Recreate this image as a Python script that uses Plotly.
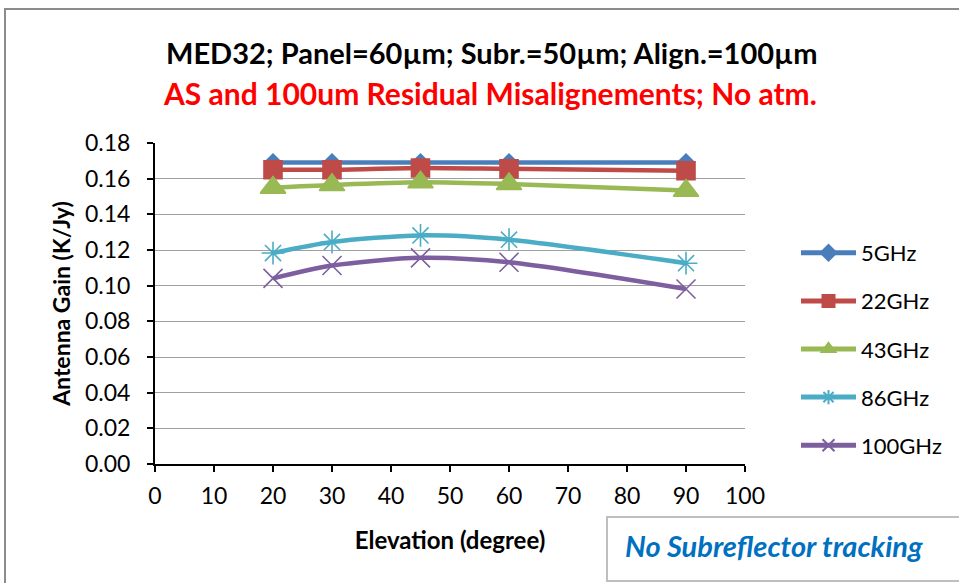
import plotly.graph_objects as go

elevation = [20, 30, 45, 60, 90]
series_names = ["5GHz", "22GHz", "43GHz", "86GHz", "100GHz"]
g5 = [0.169, 0.169, 0.169, 0.169, 0.169]
g22 = [0.165, 0.165, 0.166, 0.1655, 0.1644]
g43 = [0.155, 0.1565, 0.158, 0.157, 0.1533]
g86 = [0.1183, 0.1245, 0.1282, 0.1258, 0.1126]
g100 = [0.1041, 0.1113, 0.1156, 0.1131, 0.0981]
y_ticks = [0.00, 0.02, 0.04, 0.06, 0.08, 0.10, 0.12, 0.14, 0.16, 0.18]
x_ticks = [0, 10, 20, 30, 40, 50, 60, 70, 80, 90, 100]

colors = ["#4A7EBB", "#BE4B48", "#98B954", "#4BACC6", "#7D5FA0"]
symbols = ["diamond", "square", "triangle-up", "asterisk-open", "x-thin-open"]
sizes = [13, 18, 22, 19, 19]
values = [g5, g22, g43, g86, g100]

W, H = 959, 583
L, R, T, B = 155, 745, 143, 464

fig = go.Figure()
for name, vals, c, s, sz in zip(series_names, values, colors, symbols, sizes):
    fig.add_trace(go.Scatter(
        x=elevation, y=vals, name=name, mode="lines+markers", legendgroup=name,
        line=dict(color=c, width=4.5, shape="spline", smoothing=0.8),
        marker=dict(symbol=s, size=sz, color=c, line=dict(color=c, width=1.6)),
    ))

def px_x(p):
    return (p - L) / (R - L)

def px_y(p):
    return (B - p) / (B - T)

font = "Lato, 'Open Sans', sans-serif"
fig.update_layout(
    width=W, height=H,
    margin=dict(l=L, r=W - R, t=T, b=H - B),
    paper_bgcolor="white", plot_bgcolor="white",
    font=dict(family=font, color="black"),
    showlegend=True,
    legend=dict(x=px_x(796), y=px_y(232), xanchor="left", yanchor="top",
                font=dict(size=22, family=font), itemsizing="constant",
                tracegroupgap=16.5, itemwidth=55, bgcolor="rgba(0,0,0,0)"),
    xaxis=dict(range=[0, 100], tickvals=x_ticks, showgrid=False,
               showline=True, linecolor="black", linewidth=2,
               ticks="outside", ticklen=6, tickcolor="black", tickwidth=2,
               ticklabelstandoff=4,
               tickfont=dict(size=23, family=font), zeroline=False,
               title=dict(text="<b>Elevation (degree)</b>", font=dict(size=24, family=font), standoff=25)),
    yaxis=dict(range=[0, 0.18], tickvals=y_ticks, tickformat=".2f",
               showgrid=True, gridcolor="#A0A0A0", gridwidth=1,
               showline=True, linecolor="black", linewidth=2,
               ticks="outside", ticklen=6, tickcolor="black", tickwidth=2,
               ticklabelstandoff=12,
               tickfont=dict(size=23, family=font), zeroline=False,
               title=dict(text="<b>Antenna Gain (K/Jy)</b>", font=dict(size=23, family=font), standoff=8)),
    annotations=[
        dict(text="<b>MED32; Panel=60µm; Subr.=50µm; Align.=100µm</b>", xref="paper", yref="paper",
             x=px_x(491), y=px_y(52), xanchor="center", yanchor="middle", showarrow=False,
             font=dict(size=29, color="black", family=font)),
        dict(text="<b>AS and 100um Residual Misalignements; No atm.</b>", xref="paper", yref="paper",
             x=px_x(490), y=px_y(93), xanchor="center", yanchor="middle", showarrow=False,
             font=dict(size=30, color="#FF0000", family=font)),
        dict(text="<b><i>No Subreflector tracking</i></b>", xref="paper", yref="paper",
             x=px_x(774), y=px_y(545), xanchor="center", yanchor="middle", showarrow=False,
             font=dict(size=29, color="#0070C0", family=font)),
    ],
    shapes=[
        dict(type="rect", xref="paper", yref="paper", x0=px_x(5), x1=px_x(975), y0=px_y(600), y1=px_y(9),
             line=dict(color="#8C8C8C", width=2), fillcolor="rgba(0,0,0,0)", layer="below"),
        dict(type="rect", xref="paper", yref="paper", x0=px_x(607), x1=px_x(975), y0=px_y(581), y1=px_y(517),
             line=dict(color="#BFBFBF", width=2), fillcolor="white"),
    ],
)

fig.write_html("out.html", config={"displayModeBar": False},
               post_script="document.body.style.margin='0';document.body.style.overflow='hidden';")
